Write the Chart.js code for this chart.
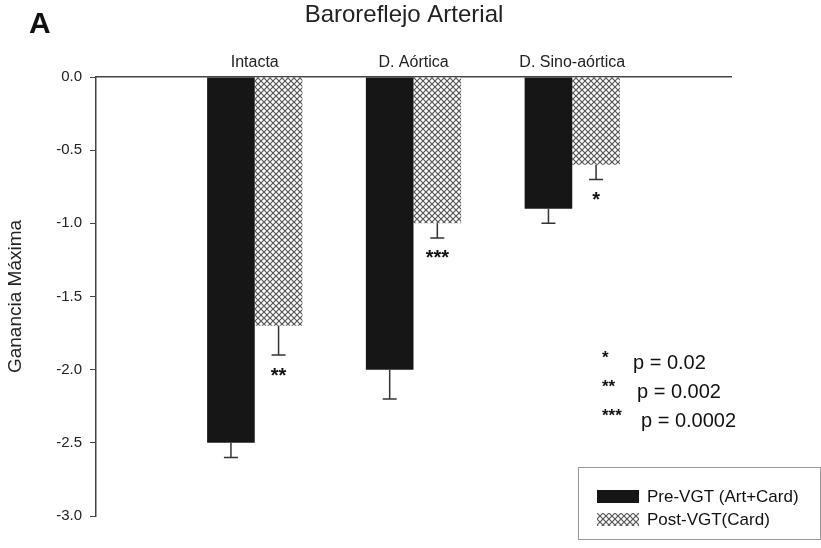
<!DOCTYPE html>
<html>
<head>
<meta charset="utf-8">
<script src="https://cdn.jsdelivr.net/npm/chart.js@4/dist/chart.umd.min.js"></script>
<style>
  html, body { margin: 0; padding: 0; background: #fff; }
  #wrap { width: 821px; height: 548px; }
</style>
</head>
<body>
<div id="wrap"><canvas id="c" width="821" height="548"></canvas></div>
<script>
// ---- data ----
const categories = ['Intacta', 'D. Aórtica', 'D. Sino-aórtica'];
const preVGT = [-2.5, -2.0, -0.9];
const preErr = [0.1, 0.2, 0.1];
const postVGT = [-1.7, -1.0, -0.6];
const postErr = [0.2, 0.1, 0.1];
const postSig = ['**', '***', '*'];
const seriesNames = ['Pre-VGT (Art+Card)', 'Post-VGT(Card)'];
const sigKeys = ['*', '**', '***'];
const sigValues = ['p = 0.02', 'p = 0.002', 'p = 0.0002'];
const yTicks = [0.0, -0.5, -1.0, -1.5, -2.0, -2.5, -3.0];

const FONT = '"Liberation Sans", Arial, sans-serif';

function makePattern() {
  const c = document.createElement('canvas');
  c.width = 6; c.height = 6;
  const g = c.getContext('2d');
  g.fillStyle = '#ffffff';
  g.fillRect(0, 0, 6, 6);
  g.strokeStyle = '#555555';
  g.lineWidth = 1.2;
  g.beginPath();
  g.moveTo(0, 0); g.lineTo(6, 6);
  g.moveTo(6, 0); g.lineTo(0, 6);
  g.stroke();
  return document.getElementById('c').getContext('2d').createPattern(c, 'repeat');
}
const hatch = makePattern();

// padded category slots (empty slot at each end)
const labels = [''].concat(categories, ['']);
const pad = arr => [null].concat(arr, [null]);

const errs = [preErr, postErr];

const errorBarPlugin = {
  id: 'errorBars',
  afterDatasetsDraw(chart) {
    const ctx = chart.ctx;
    const y = chart.scales.y;
    ctx.save();
    chart.data.datasets.forEach((ds, di) => {
      const meta = chart.getDatasetMeta(di);
      meta.data.forEach((bar, i) => {
        const v = ds.data[i];
        if (v === null || v === undefined) return;
        const e = errs[di][i - 1];
        const yEnd = y.getPixelForValue(v - e);
        ctx.strokeStyle = '#333';
        ctx.lineWidth = 1.5;
        ctx.beginPath();
        ctx.moveTo(bar.x, bar.y);
        ctx.lineTo(bar.x, yEnd);
        ctx.moveTo(bar.x - 7, yEnd);
        ctx.lineTo(bar.x + 7, yEnd);
        ctx.stroke();
        if (di === 1) {
          ctx.fillStyle = '#111';
          ctx.font = 'bold 20px ' + FONT;
          ctx.textAlign = 'center';
          ctx.textBaseline = 'top';
          ctx.fillText(postSig[i - 1], bar.x, yEnd + 11);
        }
      });
    });
    ctx.restore();
  }
};

const decorPlugin = {
  id: 'decor',
  afterDraw(chart) {
    const ctx = chart.ctx;
    ctx.save();
    // panel letter
    ctx.fillStyle = '#111';
    ctx.font = 'bold 30px ' + FONT;
    ctx.textAlign = 'left';
    ctx.textBaseline = 'middle';
    ctx.fillText('A', 29, 25);
    // title
    ctx.font = '24px ' + FONT;
    ctx.textAlign = 'center';
    ctx.fillStyle = '#222';
    ctx.fillText('Baroreflejo Arterial', 404, 15);
    // significance notes
    const sy = [363, 392, 421];
    const px = [633, 637, 641];
    sigKeys.forEach((k, i) => {
      ctx.textAlign = 'left';
      ctx.textBaseline = 'middle';
      ctx.fillStyle = '#111';
      ctx.font = 'bold 17px ' + FONT;
      ctx.fillText(k, 602, sy[i] - 5);
      ctx.font = '20px ' + FONT;
      ctx.fillText(sigValues[i], px[i], sy[i]);
    });
    // legend box
    ctx.fillStyle = '#fff';
    ctx.strokeStyle = '#999';
    ctx.lineWidth = 1;
    ctx.fillRect(578.5, 467.5, 242, 72);
    ctx.strokeRect(578.5, 467.5, 242, 72);
    const ds = chart.data.datasets;
    const ly = [497, 520];
    ds.forEach((d, i) => {
      ctx.fillStyle = d.backgroundColor;
      ctx.fillRect(597, ly[i] - 7, 42, 13);
      ctx.fillStyle = '#111';
      ctx.font = '17px ' + FONT;
      ctx.textAlign = 'left';
      ctx.textBaseline = 'middle';
      ctx.fillText(d.label, 647, ly[i]);
    });
    ctx.restore();
  }
};

new Chart(document.getElementById('c'), {
  type: 'bar',
  data: {
    labels: labels,
    datasets: [
      { label: seriesNames[0], data: pad(preVGT), backgroundColor: '#161616', borderWidth: 0 },
      { label: seriesNames[1], data: pad(postVGT), backgroundColor: hatch, borderWidth: 0 }
    ]
  },
  options: {
    responsive: false,
    animation: false,
    devicePixelRatio: 1,
    layout: { padding: { left: 0, right: 90, top: 0, bottom: 32 } },
    plugins: { legend: { display: false }, tooltip: { enabled: false }, title: { display: false } },
    datasets: { bar: { categoryPercentage: 0.6, barPercentage: 1.0 } },
    scales: {
      x: {
        position: 'top',
        offset: false,
        grid: { display: false, drawTicks: false },
        border: { display: true, color: '#444', width: 1.5 },
        ticks: { color: '#222', font: { family: FONT, size: 16 }, padding: 5, maxRotation: 0, autoSkip: false },
        afterFit(s) { s.height = 77; }
      },
      y: {
        min: -3, max: 0,
        afterBuildTicks(s) { s.ticks = yTicks.map(v => ({ value: v })); },
        grid: { drawOnChartArea: false, drawTicks: true, tickLength: 6, color: '#444' },
        border: { display: true, color: '#444', width: 1.5 },
        ticks: { color: '#222', font: { family: FONT, size: 15 }, padding: 8, callback: v => Number(v).toFixed(1) },
        title: { display: true, text: 'Ganancia Máxima', color: '#222', font: { family: FONT, size: 19 }, padding: { top: 4, bottom: 0 } },
        afterFit(s) { s.width = 96; }
      }
    }
  },
  plugins: [errorBarPlugin, decorPlugin]
});
</script>
</body>
</html>
